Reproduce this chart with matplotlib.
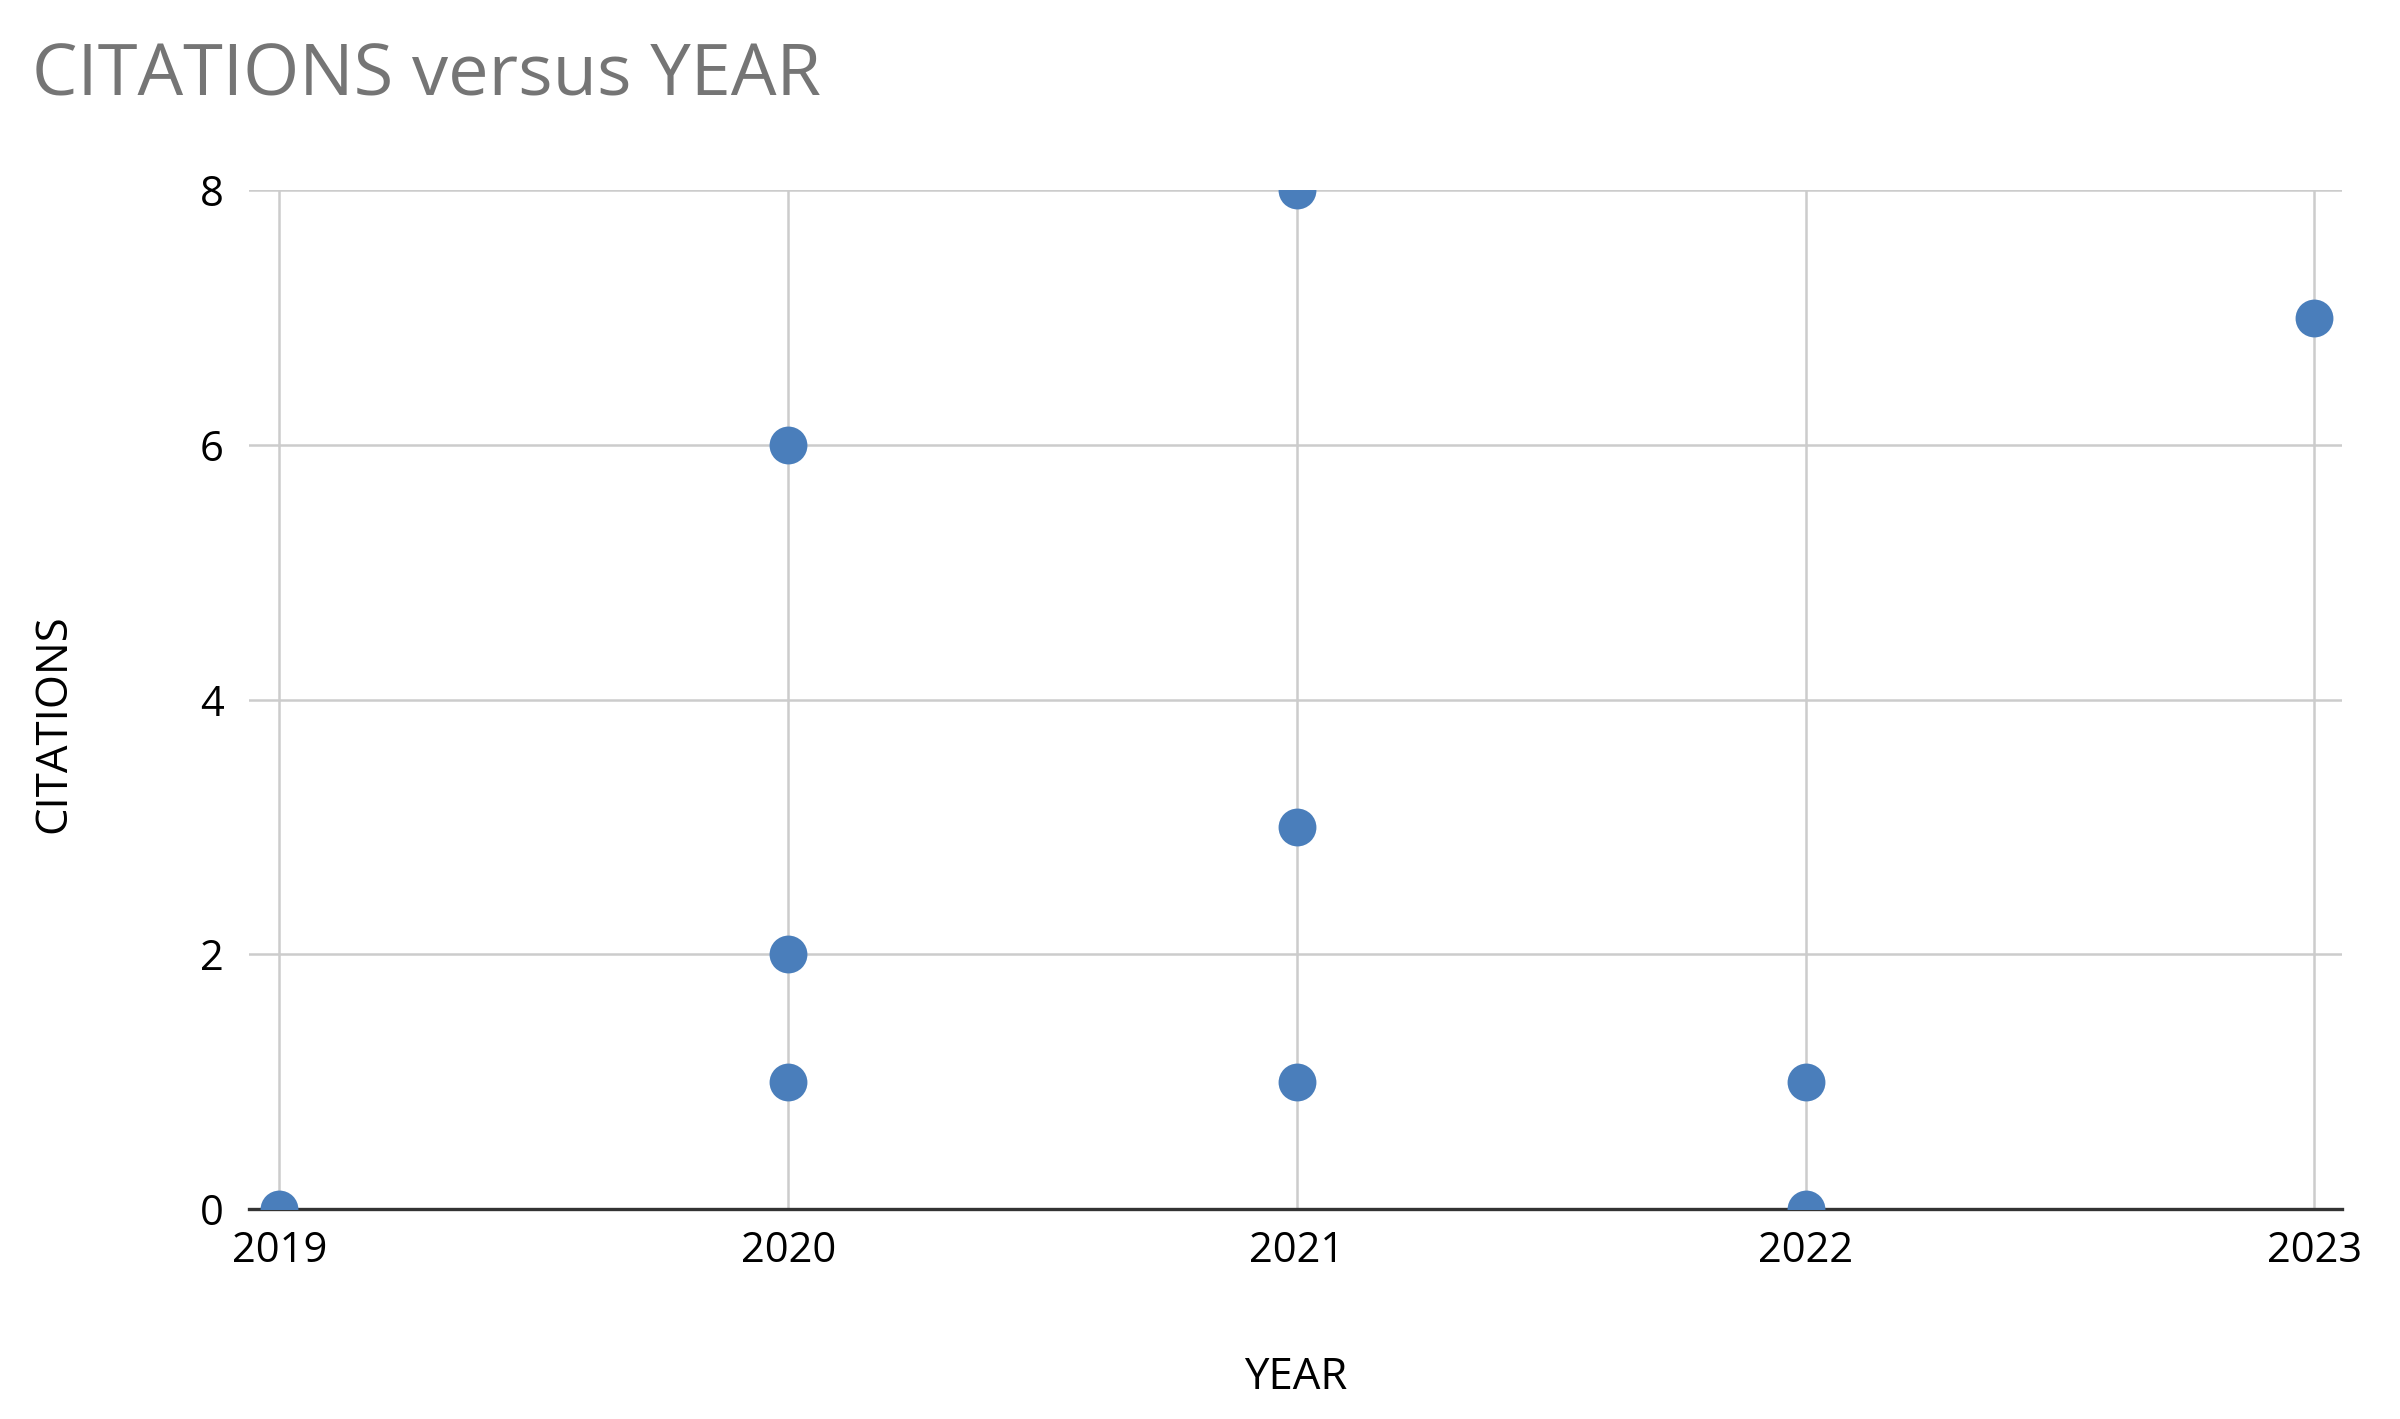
import matplotlib.pyplot as plt

# citations per paper, grouped by publication year
years = [2019, 2020, 2020, 2020, 2021, 2021, 2021, 2022, 2022, 2023]
citations = [0, 6, 2, 1, 8, 3, 1, 1, 0, 7]

year_ticks = [2019, 2020, 2021, 2022, 2023]
cit_ticks = [0, 2, 4, 6, 8]

plt.rcParams['font.family'] = ['Open Sans', 'DejaVu Sans']

fig = plt.figure(figsize=(16, 9.46), dpi=150)
ax = fig.add_axes([0.1037, 0.148, 0.8723, 0.718])

ax.scatter(years, citations, s=330, color='#4a7ebb', zorder=3, linewidths=0)

ax.set_xlim(2018.94, 2023.055)
ax.set_ylim(0, 8)
ax.set_xticks(year_ticks)
ax.set_yticks(cit_ticks)
ax.grid(True, color='#cccccc', linewidth=1.2)
ax.set_axisbelow(True)
for s in ['top', 'right', 'left']:
    ax.spines[s].set_visible(False)
ax.spines['bottom'].set_color('#333333')
ax.spines['bottom'].set_linewidth(1.6)
ax.spines['bottom'].set_zorder(2.5)
ax.tick_params(axis='both', length=0, labelsize=20, colors='black')
ax.tick_params(axis='x', pad=10)
ax.tick_params(axis='y', pad=12)

ax.set_xlabel('YEAR', fontsize=21, va='center')
ax.xaxis.set_label_coords(0.5, -0.166)
ax.set_ylabel('CITATIONS', fontsize=21, va='center')
ax.yaxis.set_label_coords(-0.093, 0.476)

fig.text(0.0135, 0.946, 'CITATIONS versus YEAR', fontsize=34.7, color='#757575',
         ha='left', va='center')

fig.savefig('out.png', dpi=150)
